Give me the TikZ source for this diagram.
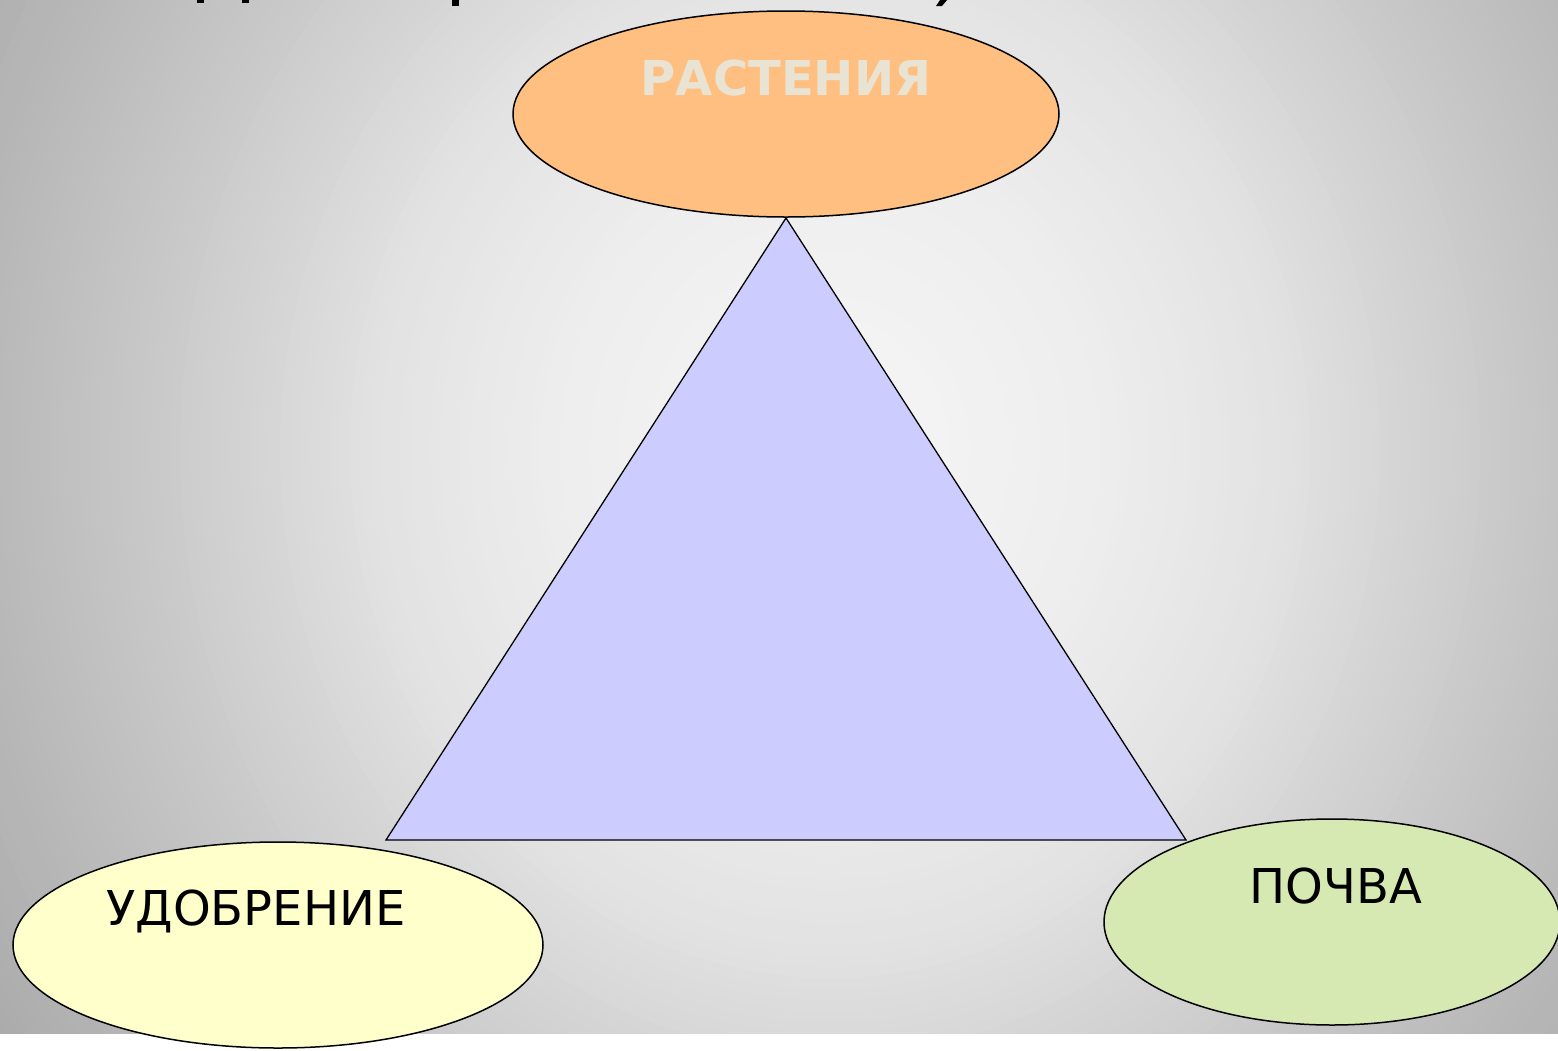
\documentclass[tikz,border=0pt]{standalone}
\usepackage{fontspec}
\setmainfont{DejaVu Sans}
\usetikzlibrary{shapes.geometric}
\definecolor{plantfill}{HTML}{FFBF80}
\definecolor{fertfill}{HTML}{FFFFCC}
\definecolor{soilfill}{HTML}{D7E9B3}
\definecolor{trifill}{HTML}{CCCCFF}
\definecolor{plantlabel}{HTML}{E8E3D3}
\tikzset{
  oval/.style={ellipse, draw=black, line width=1.5pt, inner sep=0pt},
  lbl/.style={anchor=base, inner sep=0pt, font=\fontsize{48}{56}\selectfont},
}
\begin{document}
\begin{tikzpicture}[x=1pt,y=-1pt]
\useasboundingbox (0,0) rectangle (1558,1050);
\fill[white] (0,0) rectangle (1558,1050);
\begin{scope}
  \clip (0,0) rectangle (1558,1033);
  \foreach \r in {1100,1090,...,10} {
    \pgfmathsetmacro{\g}{\r>1025 ? 0.659-(\r-1025)/75*0.019 :
      (\r>850 ? 0.722-(\r-850)/175*0.063 :
      (\r>715 ? 0.773-(\r-715)/135*0.051 :
      (\r>450 ? 0.890-(\r-450)/265*0.117 :
      (\r>270 ? 0.933-(\r-270)/180*0.043 :
      0.965-\r/270*0.032))))}
    \pgfmathsetmacro{\ry}{1.1*\r}
    \definecolor{ringc}{gray}{\g}
    \fill[ringc] (830,450) ellipse [x radius=\r pt, y radius=\ry pt];
  }
\end{scope}
% fragments of a cut-off title line
\fill[black] (197,0) rectangle (204,3);
\fill[black] (242,0) rectangle (249,3);
\fill[black] (452,0) rectangle (459,6);
\fill[black] (940,0) -- (947,0) -- (942,6) -- (936,6) -- cycle;
% triangle
\coordinate (apex) at (786,218);
\coordinate (bl) at (386,840);
\coordinate (br) at (1186,840);
\draw[fill=trifill, line width=1.3pt, line join=miter] (apex) -- (br) -- (bl) -- cycle;
% ellipses
\node[oval, fill=plantfill, minimum width=546, minimum height=206] (plant) at (786,114) {};
\node[oval, fill=fertfill, minimum width=530, minimum height=206] (fert) at (278,945) {};
\node[oval, fill=soilfill, minimum width=456, minimum height=206] (soil) at (1332,922) {};
% labels
\node[lbl, text=plantlabel, font=\fontsize{48}{56}\selectfont\bfseries] (plantlbl) at (786,95) {РАСТЕНИЯ};
\node[lbl] (fertlbl) at (256,925) {УДОБРЕНИЕ};
\node[lbl] (soillbl) at (1336,903) {ПОЧВА};
\end{tikzpicture}
\end{document}
